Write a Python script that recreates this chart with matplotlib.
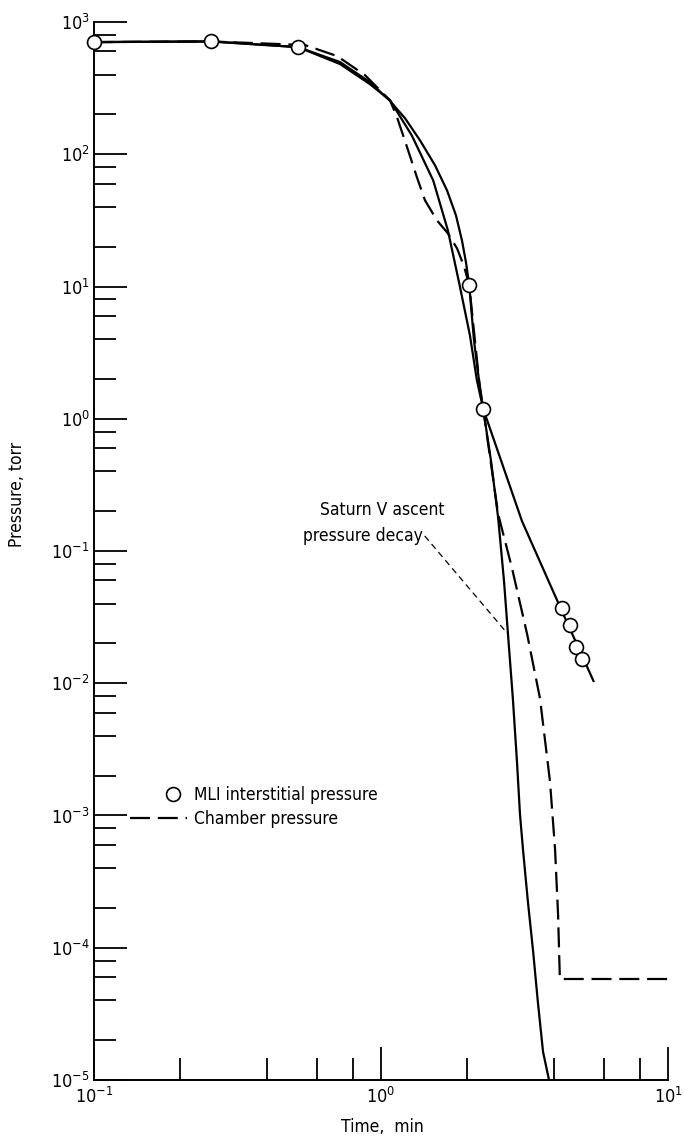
import matplotlib
matplotlib.use("Agg")
import matplotlib.pyplot as plt
from matplotlib.lines import Line2D
from matplotlib.legend_handler import HandlerBase
from matplotlib.ticker import LogLocator, NullFormatter

plt.rcParams['font.family'] = ['DejaVu Sans']
plt.rcParams['font.stretch'] = 'condensed'

# MLI interstitial pressure (measured points)
mli_t = [0.1, 0.256, 0.514, 2.03, 2.27, 4.27, 4.55, 4.77, 5.03]
mli_p = [705, 713, 646, 10.2, 1.19, 0.037, 0.0275, 0.0188, 0.0152]

# faired curve through the MLI points
mli_fit_t = [0.1, 0.256, 0.514, 0.72, 0.915, 1.07, 1.212, 1.367, 1.542, 1.698,
             1.825, 1.915, 1.978, 2.03, 2.109, 2.196, 2.27, 3.1, 4.2, 5.5]
mli_fit_p = [705, 713, 646, 498, 351, 256, 187.5, 127.6, 82.6, 53.4,
             34.5, 22.3, 15.2, 10.2, 3.9, 1.94, 1.19, 0.168, 0.038, 0.0104]

# Saturn V ascent pressure decay
saturn_t = [0.1, 0.256, 0.514, 0.72, 0.915, 1.075, 1.28, 1.52, 1.71, 1.88, 2.042,
            2.16, 2.27, 2.417, 2.56, 2.683, 2.77, 2.88, 2.977, 3.05, 3.13, 3.25,
            3.39, 3.52, 3.67, 3.85]
saturn_p = [705, 713, 646, 481, 339, 256, 139, 63.5, 26.6, 10.2, 4.25,
            1.94, 1.19, 0.481, 0.178, 0.0593, 0.0235, 0.0077, 2.56e-3, 1.02e-3, 5.3e-4, 2.23e-4,
            9.3e-5, 3.9e-5, 1.63e-5, 1e-5]

# Chamber pressure
chamber_t = [0.1, 0.256, 0.543, 0.703, 0.879, 1.075, 1.137, 1.233, 1.334, 1.423,
             1.567, 1.711, 1.841, 1.947, 2.03, 2.21, 2.27, 2.56, 2.86, 3.23, 3.58,
             3.88, 4.04, 4.14, 4.2, 9.93]
chamber_p = [705, 713, 670, 553, 397, 256, 191, 113, 67, 44.9,
             31.6, 25.2, 19.4, 14.2, 10.2, 1.72, 1.19, 0.19, 0.0743, 0.0235, 0.0077,
             1.81e-3, 5.6e-4, 1.78e-4, 5.8e-5, 5.8e-5]

# leader from the label to the Saturn V curve
leader_t = [1.42, 1.50, 2.77]
leader_p = [0.13, 0.113, 0.0235]


class MarkerRight(HandlerBase):
    # legend circle drawn toward the right end of the handle area
    def create_artists(self, legend, orig_handle, xdescent, ydescent,
                       width, height, fontsize, trans):
        m = Line2D([-xdescent + 0.75 * width], [0.5 * height - ydescent],
                   ls='none', marker='o', ms=10, mfc='white', mec='black',
                   mew=1.2, transform=trans)
        return [m]


fig = plt.figure(figsize=(6.84, 11.41), dpi=100)
ax = fig.add_axes([0.1374, 0.0535, 0.8392, 0.9272])

lw = 1.6
ax.plot(mli_fit_t, mli_fit_p, color='black', lw=lw)
ax.plot(saturn_t, saturn_p, color='black', lw=lw)
ax.plot(chamber_t, chamber_p, color='black', lw=lw, dashes=(9, 3.5))
ax.plot(leader_t, leader_p, color='black', lw=0.9, dashes=(5, 3.5))
ax.plot(mli_t, mli_p, 'o', ms=10, mfc='white', mec='black', mew=1.2, zorder=5,
        clip_on=False)

ax.text(0.613, 0.205, 'Saturn V ascent', fontsize=12.5, ha='left', va='center')
ax.text(1.40, 0.13, 'pressure decay', fontsize=12.5, ha='right', va='center')

ax.set_xscale('log')
ax.set_yscale('log')
ax.set_xlim(0.1, 10)
ax.set_ylim(1e-5, 1e3)

for s in ['top', 'right']:
    ax.spines[s].set_visible(False)
for s in ['left', 'bottom']:
    ax.spines[s].set_linewidth(1.4)

ax.xaxis.set_minor_locator(LogLocator(base=10, subs=[2, 4, 6, 8]))
ax.yaxis.set_minor_locator(LogLocator(base=10, subs=[2, 4, 6, 8]))
ax.xaxis.set_minor_formatter(NullFormatter())
ax.yaxis.set_minor_formatter(NullFormatter())
ax.tick_params(which='major', direction='in', length=24, width=1.3,
               labelsize=13, pad=3)
ax.tick_params(which='minor', direction='in', length=16, width=1.3)
ax.tick_params(axis='x', which='major', pad=5)

ax.set_xlabel('Time,  min', fontsize=12.5)
ax.set_ylabel('Pressure, torr', fontsize=12.5)
ax.xaxis.set_label_coords(0.503, -0.036)
ax.yaxis.set_label_coords(-0.118, 0.553)

circle_h = Line2D([], [], ls='none', marker='o', ms=10, mfc='white', mec='black', mew=1.2)
dash_h = Line2D([], [], color='black', lw=lw, dashes=(9, 3.5))
ax.legend([circle_h, dash_h], ['MLI interstitial pressure', 'Chamber pressure'],
          loc='upper left', bbox_to_anchor=(0.063, 0.278), frameon=False,
          fontsize=12.5, handlelength=3.3, handletextpad=0.35, labelspacing=0.35,
          borderpad=0, borderaxespad=0,
          handler_map={circle_h: MarkerRight()})

fig.savefig('out.png', dpi=100)
